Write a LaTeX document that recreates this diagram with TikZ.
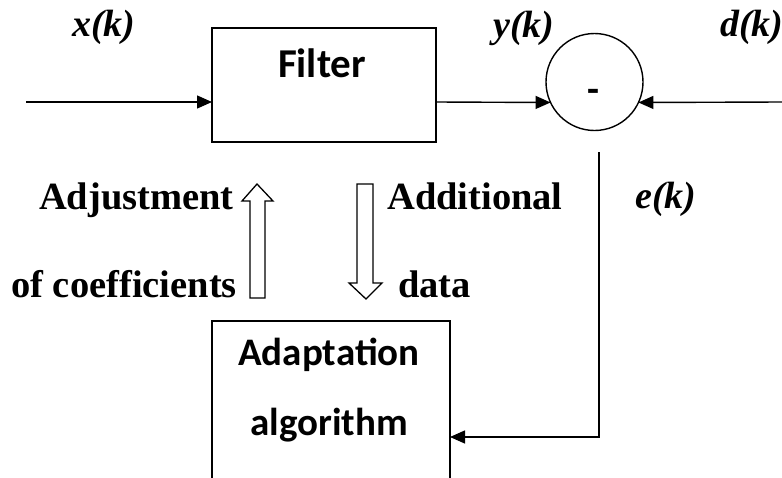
\documentclass[tikz,border=0pt]{standalone}
\usepackage{fontspec}
\setmainfont{Liberation Serif}
\newfontfamily\calibri{Carlito}
\usetikzlibrary{arrows.meta}
\begin{document}
\begin{tikzpicture}[x=1pt,y=-1pt,
  wire/.style={line width=1.4pt},
  tip/.style={-{Triangle[length=15pt,width=13pt]}},
  blk/.style={draw,line width=1.4pt,rectangle,inner sep=0pt,outer sep=0pt},
  sig/.style={font=\fontsize{38}{40}\selectfont\bfseries\itshape,inner sep=0pt},
  lbl/.style={font=\fontsize{38.5}{40}\selectfont\bfseries,inner sep=0pt},
  boxtext/.style={font=\calibri\fontsize{39}{42}\selectfont\bfseries,inner sep=0pt},
  hollow/.style={draw,line width=1.3pt,fill=white,line join=miter}]
\clip (0,0) rectangle (782,477);

% blocks
\node[blk,minimum width=224pt,minimum height=114pt] (filter) at (324,85) {};
\node[blk,minimum width=238pt,minimum height=200pt] (adapt) at (331,421) {};
\node[draw,circle,line width=1.4pt,minimum size=97pt,inner sep=0pt,outer sep=0pt] (sum) at (594.5,82) {};

% block texts
\node[boxtext,anchor=base,font=\calibri\fontsize{41}{44}\selectfont\bfseries] (filtertxt) at (322,77) {Filter};
\node[boxtext,anchor=base] (adapt1) at (329,365) {Adaptation};
\node[boxtext,anchor=base] (adapt2) at (329,435) {algorithm};
\node[boxtext,anchor=base] (minus) at (593,102) {-};

% signal labels
\node[sig,anchor=base west] (xk) at (72,36) {x(k)};
\node[sig,anchor=base west] (yk) at (493,37) {y(k)};
\node[sig,anchor=base west] (dk) at (720,36) {d(k)};
\node[sig,anchor=base west] (ek) at (635,208) {e(k)};

% side labels
\node[lbl,anchor=base east] (adj) at (234,209) {Adjustment};
\node[lbl,anchor=base east] (coef) at (237,297) {of coefficients};
\node[lbl,anchor=base west] (addl) at (387,209) {Additional};
\node[lbl,anchor=base west] (data) at (398,297) {data};

% connectors
\coordinate (in) at (26,102);
\coordinate (din) at (782,102);
\coordinate (etop) at (599,152);
\coordinate (ecorner) at (599,437);
\draw[wire,tip] (in) -- (in -| filter.west);
\draw[wire,tip] (filter.east |- in) -- (sum.205);
\draw[wire,tip] (din) -- (sum.335);
\draw[wire,tip] (etop) -- (ecorner) -- (ecorner -| adapt.east);

% hollow block arrows
\draw[hollow] (250,298) -- (265,298) -- (265,201) -- (273,201) -- (257,184)
  -- (242,201) -- (250,201) -- cycle;
\draw[hollow] (357,184) -- (373,184) -- (373,283) -- (382,283) -- (366,299)
  -- (349,283) -- (357,283) -- cycle;
\end{tikzpicture}
\end{document}
